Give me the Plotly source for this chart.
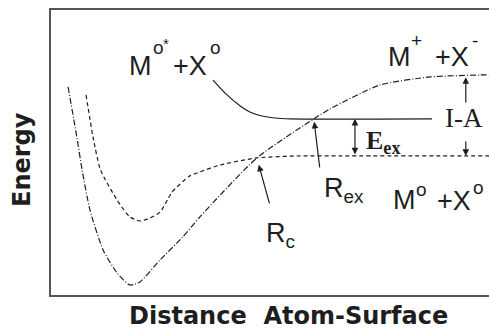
import numpy as np
import plotly.graph_objects as go

# Potential energy curves vs. atom-surface distance (arbitrary units)
# Ionic state M+ + X-
ionic_r = [0.39, 0.59, 0.71, 0.89, 1.19, 1.51, 1.80, 2.03, 2.49, 3.01, 3.40,
           4.70, 6.03, 6.37, 7.51, 8.65, 9.80, 10.0]
ionic_e = [7.30, 5.54, 4.39, 2.98, 1.58, 0.77, 0.35, 0.46, 1.23, 2.04, 2.74,
           4.81, 6.21, 6.53, 7.37, 7.65, 7.72, 7.72]

# Covalent ground state M0 + X0
cov_r = [0.80, 0.96, 1.13, 1.51, 1.80, 2.03, 2.26, 2.49, 2.67, 2.76, 3.17,
         3.40, 3.86, 4.70, 5.69, 6.60, 10.0]
cov_e = [7.02, 5.54, 4.39, 3.33, 2.74, 2.60, 2.70, 2.91, 3.37, 3.61, 4.18,
         4.32, 4.56, 4.81, 4.88, 4.88, 4.88]

# Excited covalent state M0* + X0
exc_r = [3.70, 3.97, 4.32, 4.54, 4.82, 5.11, 5.46, 8.70]
exc_e = [7.54, 7.09, 6.63, 6.42, 6.28, 6.21, 6.18, 6.18]


def crossing(r1, e1, r2, e2, lo, hi):
    """Distance and energy where two curves meet inside [lo, hi]."""
    grid = np.linspace(lo, hi, 4001)
    d = np.interp(grid, r1, e1) - np.interp(grid, r2, e2)
    i = int(np.argmin(np.abs(d)))
    return grid[i], float(np.interp(grid[i], r1, e1))


rc_r, rc_e = crossing(ionic_r, ionic_e, cov_r, cov_e, 3.5, 6.0)
rex_r, rex_e = crossing(ionic_r, ionic_e, exc_r, exc_e, 5.0, 7.0)

INK = "#1e1e1e"
SANS = "Liberation Sans, Arial, sans-serif"
SERIF = "Liberation Serif, Times New Roman, serif"

W, H = 489, 331
ML, MR, MT, MB = 51, 0, 10, 36
PW, PH = W - ML - MR, H - MT - MB

fig = go.Figure()
fig.add_trace(go.Scatter(x=ionic_r, y=ionic_e, mode="lines",
                         line=dict(color=INK, width=1.2, dash="6px,2px,1px,2px",
                                   shape="spline", smoothing=0.6)))
fig.add_trace(go.Scatter(x=cov_r, y=cov_e, mode="lines",
                         line=dict(color=INK, width=1.2, dash="4px,3px",
                                   shape="spline", smoothing=0.6)))
fig.add_trace(go.Scatter(x=exc_r, y=exc_e, mode="lines",
                         line=dict(color=INK, width=1.2,
                                   shape="spline", smoothing=0.6)))

ann = []


def txt(left, mid, text, size=27, family=SANS, xanchor="left", **kw):
    """Text placed by its left edge / vertical middle in page pixels."""
    ann.append(dict(x=(left - ML) / PW, y=(H - MB - mid) / PH,
                    xref="paper", yref="paper", text=text, showarrow=False,
                    xanchor=xanchor, yanchor="middle",
                    font=dict(family=family, size=size, color=INK), **kw))


def pointer(x, y, ax, ay, standoff=0):
    """Arrow whose tail is offset (ax, ay) pixels from its tip."""
    ann.append(dict(x=x, y=y, ax=ax, ay=ay, xref="x", yref="y", text="",
                    showarrow=True, arrowhead=2, arrowsize=1.1, arrowwidth=1.2,
                    arrowcolor=INK, standoff=standoff))


def gap_arrow(x, y_tip, y_tail, both=False):
    """Vertical arrow between two energies, in data units."""
    d = dict(x=x, y=y_tip, ax=x, ay=y_tail, xref="x", yref="y",
             axref="x", ayref="y", text="", showarrow=True, arrowhead=2,
             arrowsize=1.1, arrowwidth=1.2, arrowcolor=INK)
    if both:
        d.update(arrowside="end+start", startarrowhead=2, startarrowsize=1.1)
    ann.append(d)


# M0* + X0
txt(127, 66, "M")
txt(151, 48, "o", size=19)
txt(161, 43, "*", size=15)
txt(171, 66, "+X")
txt(208, 48, "o", size=19)

# M+ + X-
txt(386, 57, "M")
txt(409, 40, "+", size=19)
txt(433, 57, "+X")
txt(470, 40, "-", size=19)

# M0 + X0
txt(391, 200, "M")
txt(414, 189, "o", size=19)
txt(435, 201, "+X")
txt(471, 188, "o", size=19)

# Crossing radii and energy gaps
txt(322, 190, "R<sub>ex</sub>")
txt(264, 235, "R<sub>c</sub>")
txt(464, 118, "I-A", family=SERIF, xanchor="center")
txt(364, 142, "<b>E<sub>ex</sub></b>", size=26, family=SERIF)

# Crossing-point arrows
pointer(rc_r, rc_e, 13, 47, standoff=7)
pointer(rex_r, rex_e, 6, 50, standoff=3)

# Excitation energy and I-A gaps
gap_arrow(6.94, exc_e[-1], cov_e[-1], both=True)
gap_arrow(9.47, ionic_e[-1] - 0.08, 6.70)
gap_arrow(9.47, cov_e[-1], 5.44)

# Axis titles
ann.append(dict(x=(22 - ML) / PW, y=(H - MB - 160) / PH, xref="paper", yref="paper",
                text="<b>Energy</b>", textangle=-90, showarrow=False,
                xanchor="center", yanchor="middle",
                font=dict(family="DejaVu Sans, sans-serif", size=24, color=INK)))
ann.append(dict(x=(288 - ML) / PW, y=(H - MB - 316) / PH, xref="paper", yref="paper",
                text="<b>Distance\u00a0\u00a0Atom-Surface</b>",
                showarrow=False, xanchor="center", yanchor="middle",
                font=dict(family="DejaVu Sans, sans-serif", size=24, color=INK)))

axis_common = dict(showgrid=False, zeroline=False, showticklabels=False,
                   ticks="", linecolor="#555", linewidth=1.5, fixedrange=True)
fig.update_layout(
    width=W, height=H,
    margin=dict(l=ML, r=MR, t=MT, b=MB),
    paper_bgcolor="white", plot_bgcolor="white",
    showlegend=False,
    xaxis=dict(range=[0, 10], showline=True, mirror=True, **axis_common),
    yaxis=dict(range=[0, 10], showline=True, mirror=False, **axis_common),
    annotations=ann,
)

fig.write_html("out.html")
